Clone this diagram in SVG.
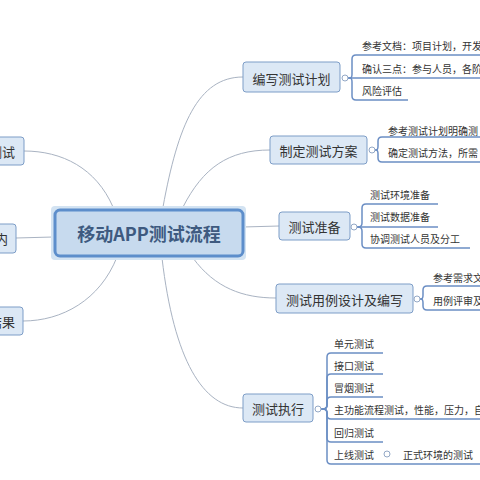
<svg xmlns="http://www.w3.org/2000/svg" width="480" height="480" viewBox="0 0 480 480">
<style>
text{font-family:"Noto Sans CJK SC","Liberation Sans",sans-serif;fill:#333;dominant-baseline:central}
.box{fill:#dce8f5;stroke:#7d9dc7;stroke-width:1}
.t1{font-size:13px;text-anchor:middle}
.t2{font-size:10px}
.con{fill:none;stroke:#a9b3c2;stroke-width:1}
.br{fill:none;stroke:#6b8ec4;stroke-width:1.5}
.dot{fill:#fff;stroke:#93a8c6;stroke-width:1}
</style>
<rect width="480" height="480" fill="#fff"/>
<g id="connectors">
<path class="con" d="M163 207 C178 125 198 77 243 77"/>
<path class="con" d="M183 207 C203 168 228 150 270 150"/>
<path class="con" d="M243 227 L279 226"/>
<path class="con" d="M193 258 C215 288 243 298 276 298"/>
<path class="con" d="M162 258 C174 360 203 408 243 408"/>
<path class="con" d="M113 207 C96 168 62 151 24 151"/>
<path class="con" d="M53 237 L16 238"/>
<path class="con" d="M117 257 C100 300 62 321 23 321"/>
</g>
<g id="center">
<rect x="51" y="206" width="195" height="54" rx="4" fill="#d3e3f2"/>
<rect x="55" y="210" width="188" height="46" rx="5" fill="#c7daee" stroke="#5d8ecb" stroke-width="3"/>
<text x="149" y="233" style="font-size:18px;font-weight:bold;fill:#3e5a80;text-anchor:middle">移动APP测试流程</text>
</g>
<g id="left1">
<rect class="box" x="-20" y="137" width="44" height="28" rx="3"/>
<text x="15" y="151" style="font-size:13px;text-anchor:end">测试</text>
</g>
<g id="left2">
<rect class="box" x="-20" y="224" width="36" height="29" rx="3"/>
<text x="8" y="238" style="font-size:13px;text-anchor:end">内</text>
</g>
<g id="left3">
<rect class="box" x="-20" y="307" width="43" height="28" rx="3"/>
<text x="15" y="321" style="font-size:13px;text-anchor:end">结果</text>
</g>
<g id="n1">
<rect class="box" x="243" y="62" width="97" height="30" rx="3"/>
<text class="t1" x="291.5" y="78">编写测试计划</text>
<path class="br" d="M348 78 H350 Q352 78 352 74 V59 Q352 55 356 55 H480"/>
<path class="br" d="M348 78 H480"/>
<path class="br" d="M348 78 H350 Q352 78 352 82 V96 Q352 100 356 100 H408"/>
<circle class="dot" cx="345" cy="78" r="3"/>
<text class="t2" x="362" y="45">参考文档：项目计划，开发</text>
<text class="t2" x="362" y="68">确认三点：参与人员，各阶</text>
<text class="t2" x="362" y="90">风险评估</text>
</g>
<g id="n2">
<rect class="box" x="270" y="136" width="97" height="28" rx="3"/>
<text class="t1" x="318.5" y="150">制定测试方案</text>
<path class="br" d="M375 150 H376 Q378 150 378 146 V141 Q378 137 382 137 H480"/>
<path class="br" d="M375 150 H376 Q378 150 378 154 V158 Q378 162 382 162 H480"/>
<circle class="dot" cx="372" cy="150" r="3"/>
<text class="t2" x="388" y="130">参考测试计划明确测</text>
<text class="t2" x="388" y="152">确定测试方法，所需</text>
</g>
<g id="n3">
<rect class="box" x="279" y="212" width="71" height="28" rx="3"/>
<text class="t1" x="314.5" y="226">测试准备</text>
<path class="br" d="M357 227 H358 Q362 227 362 223 V208 Q362 204 366 204 H438"/>
<path class="br" d="M357 227 H438"/>
<path class="br" d="M357 227 H358 Q362 227 362 231 V244 Q362 248 366 248 H470"/>
<circle class="dot" cx="354" cy="227" r="3"/>
<text class="t2" x="370" y="194">测试环境准备</text>
<text class="t2" x="370" y="216">测试数据准备</text>
<text class="t2" x="370" y="238">协调测试人员及分工</text>
</g>
<g id="n4">
<rect class="box" x="276" y="284" width="137" height="29" rx="3"/>
<text class="t1" x="344.5" y="299">测试用例设计及编写</text>
<path class="br" d="M420 299 H421 Q423 299 423 295 V290 Q423 286 427 286 H480"/>
<path class="br" d="M420 299 H421 Q423 299 423 303 V306 Q423 310 427 310 H480"/>
<circle class="dot" cx="417" cy="299" r="3"/>
<text class="t2" x="433" y="277">参考需求文</text>
<text class="t2" x="433" y="300">用例评审及</text>
</g>
<g id="n5">
<rect class="box" x="243" y="394" width="70" height="28" rx="3"/>
<text class="t1" x="278" y="408">测试执行</text>
<path class="br" d="M321 409 H323 Q327 409 327 405 V357 Q327 353 331 353 H383"/>
<path class="br" d="M321 409 H323 Q327 409 327 405 V378 Q327 374 331 374 H383"/>
<path class="br" d="M321 409 H323 Q327 409 327 405 V401 Q327 397 331 397 H383"/>
<path class="br" d="M321 409 H323 Q327 409 327 413 V415 Q327 419 331 419 H480"/>
<path class="br" d="M321 409 H323 Q327 409 327 413 V438 Q327 442 331 442 H383"/>
<path class="br" d="M321 409 H323 Q327 409 327 413 V460 Q327 464 331 464 H480"/>
<circle class="dot" cx="318" cy="409" r="3"/>
<text class="t2" x="334" y="343">单元测试</text>
<text class="t2" x="334" y="365">接口测试</text>
<text class="t2" x="334" y="387">冒烟测试</text>
<text class="t2" x="334" y="409">主功能流程测试，性能，压力，自</text>
<text class="t2" x="334" y="432">回归测试</text>
<text class="t2" x="334" y="454">上线测试</text>
<circle class="dot" cx="387" cy="454" r="3"/>
<text class="t2" x="403" y="454">正式环境的测试</text>
</g>
</svg>
